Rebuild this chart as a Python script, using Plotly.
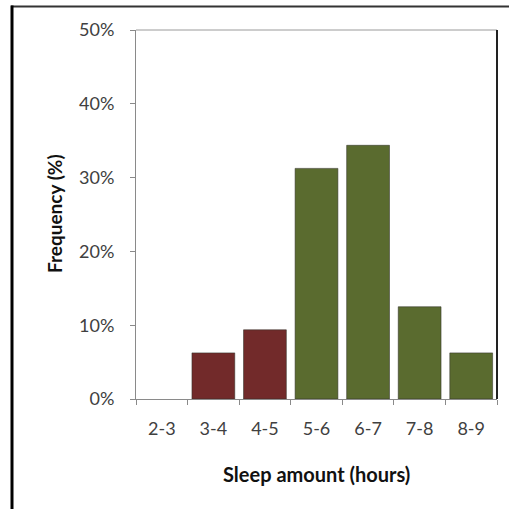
import plotly.graph_objects as go

categories = ["2-3", "3-4", "4-5", "5-6", "6-7", "7-8", "8-9"]
frequency = [0.0, 6.25, 9.375, 31.25, 34.375, 12.5, 6.25]
bar_colors = ["#722a2a", "#722a2a", "#722a2a", "#5a6b2f", "#5a6b2f", "#5a6b2f", "#5a6b2f"]
y_ticks = [0, 10, 20, 30, 40, 50]
y_tick_labels = ["0%", "10%", "20%", "30%", "40%", "50%"]

W, H = 509, 509
L, R, T, B = 136, 12, 30, 110
pw, ph = W - L - R, H - T - B

def px(x):
    return (x - L) / pw

def py(y):
    return (H - B - y) / ph

fig = go.Figure()
fig.add_trace(go.Bar(
    x=categories, y=frequency,
    marker=dict(color=bar_colors,
                line=dict(color="rgba(50,50,40,0.55)", width=[0 if v == 0 else 1 for v in frequency])),
    width=0.83,
))

font_family = "Lato, 'Open Sans', sans-serif"
fig.update_layout(
    width=W, height=H,
    margin=dict(l=L, r=R, t=T, b=B),
    paper_bgcolor="white", plot_bgcolor="white",
    showlegend=False,
    font=dict(family=font_family, size=18, color="#404040"),
    xaxis=dict(
        type="category", showgrid=False, showline=True, linecolor="#8a8a8a", linewidth=1,
        ticks="outside", tickson="boundaries", ticklen=5, tickcolor="#8a8a8a",
        tickfont=dict(size=18, color="#404040"), ticklabelstandoff=13,
    ),
    yaxis=dict(
        range=[0, 50], tickvals=y_ticks, ticktext=y_tick_labels,
        showgrid=False, showline=True, linecolor="#8a8a8a", linewidth=1,
        ticks="outside", ticklen=5, tickcolor="#8a8a8a",
        tickfont=dict(size=18, color="#404040"), zeroline=False, ticklabelstandoff=12,
    ),
    shapes=[
        dict(type="line", xref="paper", yref="paper", x0=0, x1=1, y0=1, y1=1,
             line=dict(color="#9a9a9a", width=1)),
        dict(type="line", xref="paper", yref="paper", x0=1, x1=1, y0=0, y1=1,
             line=dict(color="#222222", width=2)),
        dict(type="line", xref="paper", yref="paper", x0=px(11), x1=px(509), y0=py(6.5), y1=py(6.5),
             line=dict(color="#333333", width=2)),
        dict(type="line", xref="paper", yref="paper", x0=px(12), x1=px(12), y0=py(5.5), y1=py(509),
             line=dict(color="#000000", width=3)),
    ],
    annotations=[
        dict(text="<b>Frequency (%)</b>", xref="paper", yref="paper", x=px(54), y=py(214),
             showarrow=False, textangle=-90, font=dict(size=19, color="#111111"),
             xanchor="center", yanchor="middle"),
        dict(text="<b>Sleep amount (hours)</b>", xref="paper", yref="paper", x=px(316), y=py(474),
             showarrow=False, font=dict(size=20, color="#111111"),
             xanchor="center", yanchor="middle"),
    ],
)

fig.write_html("out.html", config={"displayModeBar": False},
               post_script="document.body.style.margin='0';document.body.style.overflow='hidden';")
